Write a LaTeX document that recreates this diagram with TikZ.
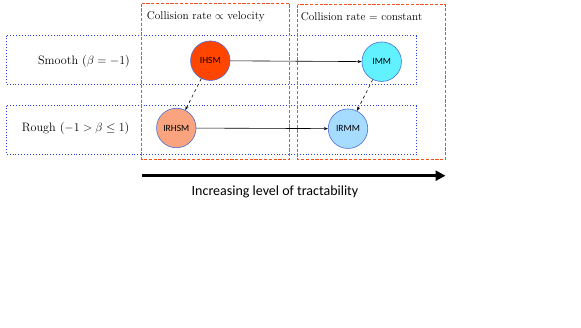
\documentclass[tikz,border=0pt]{standalone}
\usepackage{fontspec}
\newfontfamily\calib{Carlito}
\usetikzlibrary{arrows.meta}
\definecolor{hsm}{HTML}{FF4500}
\definecolor{rhsm}{HTML}{F9A47E}
\definecolor{mm}{HTML}{62F2FF}
\definecolor{rmm}{HTML}{A6DCFF}
\definecolor{edge}{HTML}{4A6CD8}
\definecolor{obox}{HTML}{F4511A}
\definecolor{bbox}{HTML}{2B3FE0}
\begin{document}
\begin{tikzpicture}[x=1pt,y=-1pt,
  model/.style={circle,draw=edge,line width=0.6pt,minimum size=39.5pt,inner sep=0pt,font=\calib\fontsize{9.5}{11}\selectfont},
  colbox/.style={draw=obox,dash pattern=on 3.2pt off 1.6pt,line width=1.15pt},
  rowbox/.style={draw=bbox,dotted,line width=0.9pt},
  lab/.style={font=\fontsize{11.3}{13}\selectfont,inner sep=0pt},
  rlab/.style={font=\fontsize{12.2}{14}\selectfont,inner sep=0pt},
  flow/.style={-{Stealth[length=4pt,width=3pt]},line width=0.6pt},
  lateral/.style={-{Stealth[length=4pt,width=3pt]},dashed,line width=0.6pt}]
\useasboundingbox (0,0) rectangle (581,327);
\draw[rowbox] (6.5,35.5) rectangle (416.5,84.5);
\draw[rowbox] (6.5,105.5) rectangle (416.5,154.5);
\coordinate (p1) at (141.5,3.5);
\coordinate (p3) at (289.5,159.5);
\coordinate (q1) at (297.5,4.5);
\coordinate (q3) at (445.5,159.5);
\draw[colbox] (p1) rectangle (p3);
\draw[colbox] (q1) rectangle (q3);
\node[lab,anchor=west] (c1) at (146.7,17) {Collision rate $\propto$ velocity};
\node[lab,anchor=west] (c2) at (300.7,17) {Collision rate $=$ constant};
\node[rlab,anchor=east] (r1) at (130,61) {Smooth ($\beta=-1$)};
\node[rlab,anchor=east] (r2) at (129.5,128) {Rough ($-1>\beta\leq 1$)};
\node[model,fill=hsm] (ihsm) at (210.3,60.7) {IHSM};
\node[model,fill=rhsm] (irhsm) at (176.3,128) {IRHSM};
\node[model,fill=mm] (imm) at (381.7,61.7) {IMM};
\node[model,fill=rmm] (irmm) at (348,128.7) {IRMM};
\draw[flow] (ihsm) -- (imm);
\draw[flow] (irhsm) -- (irmm);
\draw[lateral] (ihsm) -- (irhsm);
\draw[lateral] (imm) -- (irmm);
\coordinate (a0) at (141.7,175.7);
\coordinate (a1) at (445.5,175.7);
\draw[-{Triangle[length=10pt,width=10pt]},line width=3pt] (a0) -- (a1);
\node[font=\calib\fontsize{14}{16}\selectfont] (tr) at (275,191.5) {Increasing level of tractability};
\end{tikzpicture}
\end{document}
